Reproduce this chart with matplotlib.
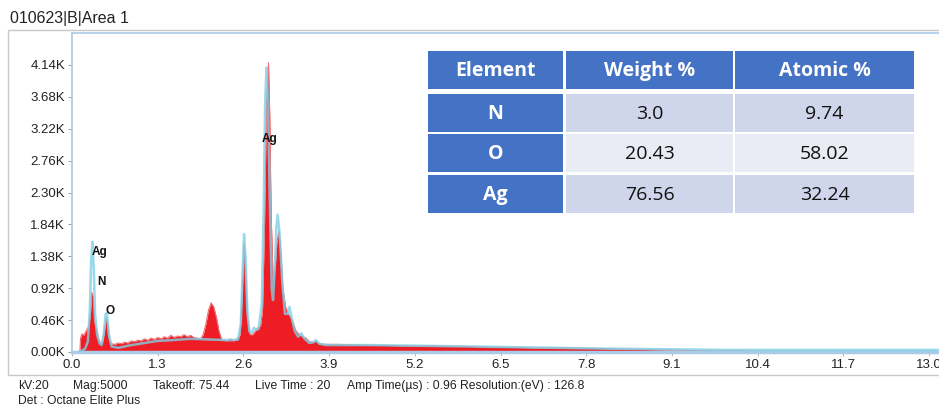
import matplotlib
matplotlib.use("Agg")
import matplotlib.pyplot as plt
from matplotlib.patches import Rectangle

plt.rcParams['font.family'] = ['Liberation Sans', 'DejaVu Sans']

# --- data (energy in keV, counts in thousands) ---
spec_e = [0.10, 0.12, 0.13, 0.15, 0.18, 0.20, 0.23, 0.25, 0.28, 0.30, 0.32, 0.34,
          0.36, 0.38, 0.40, 0.43, 0.46, 0.49, 0.52, 0.54, 0.56, 0.59, 0.65, 0.70,
          0.75, 0.80, 0.85, 0.90, 0.95, 1.00, 1.05, 1.10, 1.15, 1.20, 1.25, 1.30,
          1.35, 1.40, 1.45, 1.50, 1.55, 1.60, 1.65, 1.70, 1.75, 1.80, 1.85, 1.90,
          1.95, 1.99, 2.03, 2.07, 2.11, 2.15, 2.19, 2.23, 2.27, 2.30, 2.35, 2.40,
          2.45, 2.50, 2.55, 2.58, 2.61, 2.63, 2.66, 2.70, 2.74, 2.78, 2.82, 2.86,
          2.89, 2.92, 2.95, 2.98, 3.00, 3.02, 3.05, 3.08, 3.11, 3.14, 3.17, 3.20,
          3.24, 3.28, 3.32, 3.36, 3.40, 3.45, 3.50, 3.55, 3.60, 3.66, 3.70, 3.75,
          3.85, 4.0, 4.5, 5.0, 5.5, 6.0, 6.5, 7.0, 7.5, 8.0, 8.5, 9.0,
          9.5, 10.0, 10.5, 11.0, 12.0, 13.0]
spec_k = [0.00, 0.02, 0.20, 0.26, 0.24, 0.28, 0.33, 0.36, 0.55, 0.86, 0.80, 0.45,
          0.36, 0.30, 0.20, 0.12, 0.13, 0.30, 0.49, 0.42, 0.20, 0.12, 0.11, 0.13,
          0.12, 0.14, 0.13, 0.16, 0.15, 0.17, 0.16, 0.19, 0.17, 0.20, 0.18, 0.21,
          0.19, 0.22, 0.20, 0.24, 0.21, 0.23, 0.22, 0.25, 0.22, 0.24, 0.21, 0.20,
          0.19, 0.25, 0.40, 0.60, 0.71, 0.65, 0.50, 0.30, 0.18, 0.17, 0.16, 0.19,
          0.16, 0.18, 0.25, 0.80, 1.57, 1.30, 0.50, 0.25, 0.25, 0.30, 0.35, 0.38,
          0.60, 1.80, 3.60, 4.17, 3.40, 2.00, 1.05, 1.20, 1.60, 1.75, 1.40, 0.90,
          0.65, 0.55, 0.50, 0.40, 0.30, 0.25, 0.22, 0.20, 0.15, 0.14, 0.16, 0.12,
          0.11, 0.11, 0.10, 0.09, 0.09, 0.08, 0.07, 0.06, 0.06, 0.05, 0.04, 0.03,
          0.02, 0.02, 0.01, 0.01, 0.00, 0.00]

fit_e = [0.10, 0.15, 0.20, 0.24, 0.27, 0.29, 0.31, 0.33, 0.35, 0.38, 0.42, 0.45,
         0.48, 0.51, 0.53, 0.56, 0.60, 0.70, 0.90, 1.10, 1.30, 1.50, 1.80, 2.10,
         2.40, 2.52, 2.56, 2.59, 2.61, 2.63, 2.66, 2.69, 2.73, 2.76, 2.79, 2.83,
         2.88, 2.91, 2.93, 2.95, 2.97, 3.00, 3.03, 3.05, 3.08, 3.10, 3.12, 3.15,
         3.19, 3.23, 3.27, 3.30, 3.33, 3.38, 3.43, 3.48, 3.52, 3.60, 3.66, 3.70,
         3.75, 3.85, 4.5, 6.0, 8.0, 10.0, 13.2]
fit_k = [0.00, 0.02, 0.05, 0.15, 0.60, 1.30, 1.59, 1.20, 0.55, 0.25, 0.12, 0.10,
         0.25, 0.55, 0.56, 0.25, 0.08, 0.06, 0.10, 0.13, 0.16, 0.17, 0.19, 0.18,
         0.17, 0.18, 0.40, 1.20, 1.70, 1.40, 0.60, 0.30, 0.28, 0.35, 0.32, 0.33,
         0.70, 2.20, 3.60, 4.10, 3.70, 2.20, 0.90, 0.75, 1.30, 1.80, 1.98, 1.70,
         1.00, 0.55, 0.55, 0.65, 0.50, 0.30, 0.22, 0.27, 0.20, 0.13, 0.14, 0.17,
         0.12, 0.10, 0.10, 0.08, 0.05, 0.03, 0.03]

peak_labels = ['Ag', 'N', 'O', 'Ag']
peak_e = [0.42, 0.44, 0.57, 2.99]
peak_k = [1.44, 1.01, 0.59, 3.07]

yticks = [0.00, 0.46, 0.92, 1.38, 1.84, 2.30, 2.76, 3.22, 3.68, 4.14]
xticks = [0.0, 1.3, 2.6, 3.9, 5.2, 6.5, 7.8, 9.1, 10.4, 11.7, 13.0]

tbl_header = ['Element', 'Weight %', 'Atomic %']
tbl_elements = ['N', 'O', 'Ag']
tbl_weight = ['3.0', '20.43', '76.56']
tbl_atomic = ['9.74', '58.02', '32.24']

footer_items = ['kV:20', 'Mag:5000', 'Takeoff: 75.44', 'Live Time : 20',
                'Amp Time(\u00b5s) : 0.96', 'Resolution:(eV) : 126.8']

W, H = 939, 408
fig = plt.figure(figsize=(W / 100, H / 100), dpi=100)

# overlay in pixel coordinates for frame, title, footer, table
ov = fig.add_axes([0, 0, 1, 1])
ov.set_xlim(0, W)
ov.set_ylim(H, 0)
ov.axis('off')
ov.add_patch(Rectangle((8, 30), 960, 345, fill=False, ec='#c8c8c8', lw=1))
ov.text(10, 18, '010623|B|Area 1', fontsize=11.5, color='#222222', va='center')

footer_x = [18, 73, 153, 255, 347, 460]
for fx, s in zip(footer_x, footer_items):
    ov.text(fx, 386, s, fontsize=8.7, color='#222222', va='center')
ov.text(18, 401, 'Det : Octane Elite Plus', fontsize=8.7, color='#222222', va='center')

# spectrum axes (13.0 keV sits at x=929 px, axis runs on to the image edge)
ax = fig.add_axes([72 / W, 1 - 352 / H, (W - 72) / W, (352 - 33) / H])
ax.set_zorder(2)
ax.patch.set_alpha(0)
ax.fill_between(spec_e, spec_k, 0, color='#ee1c25', lw=0, zorder=2)
ax.plot(spec_e, spec_k, color='#f26d72', lw=0.8, zorder=2)
ax.plot(fit_e, fit_k, color='#7fd0e6', lw=1.8, alpha=0.8, zorder=3)
for lab, e, k in zip(peak_labels, peak_e, peak_k):
    ax.text(e, k, lab, fontsize=8.5, fontweight='bold', ha='center',
            va='center', color='#111111', zorder=4)

ax.set_xlim(0, 13.0 * (W - 72) / (929 - 72))
ax.set_ylim(0, 4.6)
ax.set_yticks(yticks)
ax.set_yticklabels([f'{v:.2f}K' for v in yticks])
ax.set_xticks(xticks)
ax.set_xticklabels([f'{v:.1f}' for v in xticks])
ax.tick_params(axis='both', labelsize=9.5, colors='#222222', length=3, width=0.6, pad=2)
ax.tick_params(axis='y', color='#888888')
ax.tick_params(axis='x', color='#aaaaaa')
for side in ['left', 'top']:
    ax.spines[side].set_color('#a9cbe8')
    ax.spines[side].set_linewidth(1.2)
ax.spines['bottom'].set_color('#a9cbe8')
ax.spines['bottom'].set_linewidth(2.5)
ax.spines['right'].set_visible(False)

# element table
col_edges = [(428, 563), (566, 733), (735, 914)]
row_edges = [(51, 89), (94, 132), (134, 172), (175, 213)]
blue = '#4472c4'
row_fill = ['#cfd5ea', '#e9ebf5', '#cfd5ea']
rows = [tbl_header] + [[a, b, c] for a, b, c in zip(tbl_elements, tbl_weight, tbl_atomic)]
for r, (y0, y1) in enumerate(row_edges):
    for c, (x0, x1) in enumerate(col_edges):
        header = r == 0 or c == 0
        fc = blue if header else row_fill[r - 1]
        ov.add_patch(Rectangle((x0, y0), x1 - x0, y1 - y0, fc=fc, ec='none', zorder=5))
        ov.text((x0 + x1) / 2, (y0 + y1) / 2 + 1, rows[r][c], fontsize=14,
                family=['Open Sans', 'DejaVu Sans'],
                fontweight='bold' if header else 'normal',
                color='white' if header else '#111111',
                ha='center', va='center', zorder=6)

fig.savefig('out.png', dpi=100)
